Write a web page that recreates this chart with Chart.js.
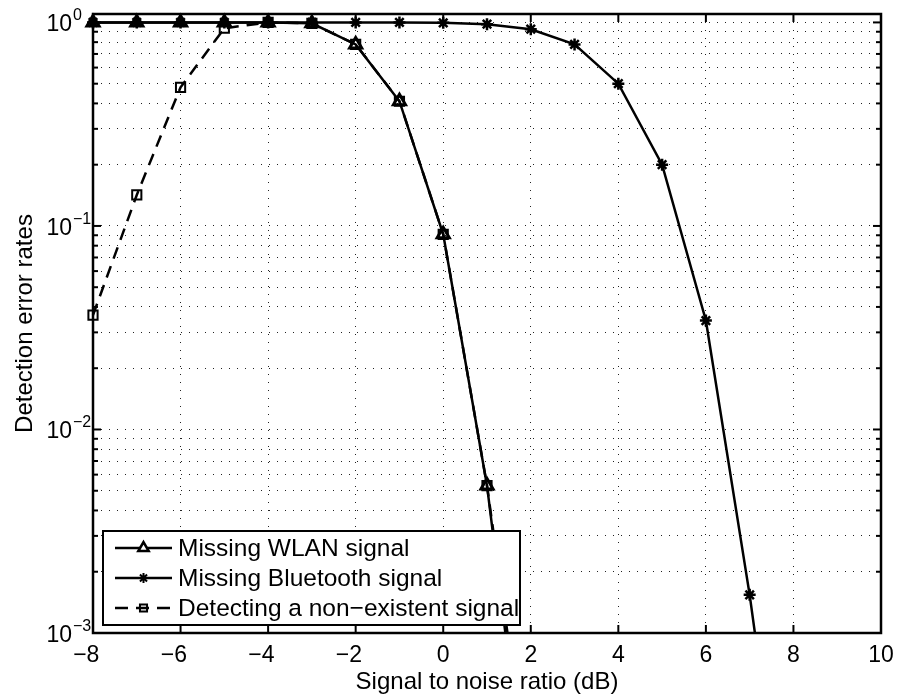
<!DOCTYPE html>
<html>
<head>
<meta charset="utf-8">
<script src="https://cdn.jsdelivr.net/npm/chart.js@4/dist/chart.umd.min.js"></script>
<style>
  html, body { margin: 0; padding: 0; background: #fff; }
  #wrap { width: 900px; height: 698px; }
</style>
</head>
<body>
<div id="wrap"><canvas id="c" width="900" height="698"></canvas></div>
<script>
// SNR sweep (dB) and measured detection error rates
const snrDb = [-8, -7, -6, -5, -4, -3, -2, -1, 0, 1, 2];
const snrDbBluetooth = [-8, -7, -6, -5, -4, -3, -2, -1, 0, 1, 2, 3, 4, 5, 6, 7, 8];
const missingWlan = [1, 1, 1, 1, 1, 0.99, 0.78, 0.41, 0.091, 0.0053, 0.0001];
const missingBluetooth = [1, 1, 1, 1, 1, 1, 1, 1, 0.995, 0.98, 0.926, 0.78, 0.50, 0.20, 0.0343, 0.00154, 0.000042];
const falseDetection = [0.0365, 0.142, 0.48, 0.936, 1, 0.99, 0.78, 0.41, 0.091, 0.0053, 0.00015];

// axis ticks
const xTickValues = [-8, -6, -4, -2, 0, 2, 4, 6, 8, 10];
const yDecadeExponents = [-3, -2, -1, 0];
const yMinorMultipliers = [1, 2, 3, 4, 5, 6, 7, 8, 9];

const seriesLabels = ['Missing WLAN signal', 'Missing Bluetooth signal', 'Detecting a non\u2212existent signal'];
const xTitle = 'Signal to noise ratio (dB)';
const yTitle = 'Detection error rates';

const FONT = '"Liberation Sans", Arial, Helvetica, sans-serif';

// every log grid position from 1e-3 up to 1
const yGridValues = [];
yDecadeExponents.forEach(e => {
  if (e === 0) { yGridValues.push(1); return; }
  yMinorMultipliers.forEach(m => yGridValues.push(m * Math.pow(10, e)));
});

const toPoints = (xs, ys) => xs.map((x, i) => ({ x: x, y: ys[i] }));
const clipBox = { left: 14, top: 14, right: 14, bottom: 0 };

const styles = [
  { pointStyle: 'triangle', radius: 7, pbw: 3, dash: [] },
  { pointStyle: 'star', radius: 6, pbw: 2.5, dash: [] },
  { pointStyle: 'rect', radius: 6.5, pbw: 2, dash: [12, 8] }
];

const datasets = [
  toPoints(snrDb, missingWlan),
  toPoints(snrDbBluetooth, missingBluetooth),
  toPoints(snrDb, falseDetection)
].map((data, i) => ({
  label: seriesLabels[i],
  data: data,
  borderColor: '#000',
  borderWidth: 2.5,
  borderDash: styles[i].dash,
  tension: 0,
  fill: false,
  pointStyle: styles[i].pointStyle,
  pointRadius: styles[i].radius,
  pointBorderWidth: styles[i].pbw,
  pointBorderColor: '#000',
  pointBackgroundColor: 'rgba(0,0,0,0)',
  clip: clipBox
}));

function seg(ctx, x1, y1, x2, y2) {
  ctx.beginPath(); ctx.moveTo(x1, y1); ctx.lineTo(x2, y2); ctx.stroke();
}

// frame, inside ticks, tick labels, titles and legend box
const framePlugin = {
  id: 'frame',
  afterDraw(chart) {
    const ctx = chart.ctx;
    const a = chart.chartArea;
    const xs = chart.scales.x, ys = chart.scales.y;
    ctx.save();

    // inside tick marks on all four sides
    ctx.strokeStyle = '#000';
    ctx.lineWidth = 2;
    xTickValues.forEach(v => {
      const px = xs.getPixelForValue(v);
      seg(ctx, px, a.bottom, px, a.bottom - 8);
      seg(ctx, px, a.top, px, a.top + 8);
    });
    yGridValues.forEach(v => {
      const py = ys.getPixelForValue(v);
      const major = Math.abs(Math.log10(v) - Math.round(Math.log10(v))) < 1e-9;
      const len = major ? 8 : 5;
      seg(ctx, a.left, py, a.left + len, py);
      seg(ctx, a.right, py, a.right - len, py);
    });

    // box
    ctx.lineWidth = 2.5;
    ctx.strokeRect(a.left, a.top, a.right - a.left, a.bottom - a.top);

    // x tick labels: digits centred on the tick, minus sign hanging left
    ctx.fillStyle = '#000';
    ctx.textBaseline = 'alphabetic';
    ctx.textAlign = 'left';
    ctx.font = '23px ' + FONT;
    xTickValues.forEach(v => {
      const px = xs.getPixelForValue(v);
      const digits = String(Math.abs(v));
      const dw = ctx.measureText(digits).width;
      let x0 = px - dw / 2;
      if (v < 0) {
        const mw = ctx.measureText('\u2212').width;
        ctx.fillText('\u2212', x0 - mw, a.bottom + 29);
      }
      ctx.fillText(digits, x0, a.bottom + 29);
    });

    // y tick labels 10^n
    yDecadeExponents.forEach(e => {
      const py = ys.getPixelForValue(Math.pow(10, e));
      ctx.font = '23px ' + FONT;
      ctx.textAlign = 'right';
      ctx.fillText('10', 72, py + 9);
      ctx.font = '16px ' + FONT;
      ctx.textAlign = 'left';
      const ex = e < 0 ? '\u2212' + Math.abs(e) : String(e);
      ctx.fillText(ex, 73, py - 2);
    });

    // axis titles
    ctx.font = '24px ' + FONT;
    ctx.textAlign = 'center';
    ctx.fillText(xTitle, (a.left + a.right) / 2, 689);
    ctx.save();
    ctx.translate(32, (a.top + a.bottom) / 2);
    ctx.rotate(-Math.PI / 2);
    ctx.fillText(yTitle, 0, 0);
    ctx.restore();

    // legend
    const lx = 103, ly = 531, lw = 417, lh = 94;
    ctx.fillStyle = '#fff';
    ctx.fillRect(lx, ly, lw, lh);
    ctx.strokeStyle = '#000';
    ctx.lineWidth = 2;
    ctx.strokeRect(lx, ly, lw, lh);
    const rowY = [548, 578, 608];
    chart.data.datasets.forEach((ds, i) => {
      const y = rowY[i];
      ctx.save();
      ctx.strokeStyle = '#000';
      ctx.lineWidth = 2.5;
      ctx.setLineDash(ds.borderDash.length ? [13, 8] : []);
      seg(ctx, 115, y, 172, y);
      ctx.restore();
      ctx.save();
      ctx.strokeStyle = '#000';
      ctx.lineWidth = i === 0 ? 2.5 : 2;
      ctx.fillStyle = i === 0 ? '#fff' : 'rgba(0,0,0,0)';
      Chart.helpers.drawPoint(ctx, {
        pointStyle: ds.pointStyle,
        radius: i === 0 ? 6 : 5,
        rotation: 0,
        borderWidth: 2
      }, 143.5, y);
      ctx.restore();
      ctx.fillStyle = '#000';
      ctx.font = '24.5px ' + FONT;
      ctx.textAlign = 'left';
      ctx.textBaseline = 'middle';
      ctx.fillText(ds.label, 178, y + 1);
    });
    ctx.restore();
  }
};

new Chart(document.getElementById('c'), {
  type: 'line',
  data: { datasets: datasets },
  options: {
    responsive: false,
    devicePixelRatio: 1,
    animation: false,
    events: [],
    layout: { padding: { top: 14, right: 19, left: 0, bottom: 0 } },
    plugins: { legend: { display: false }, tooltip: { enabled: false } },
    scales: {
      x: {
        type: 'linear',
        min: -8,
        max: 10,
        afterBuildTicks: s => { s.ticks = xTickValues.map(v => ({ value: v })); },
        afterFit: s => { s.height = 65; },
        ticks: { display: false },
        border: { display: false, dash: [1, 7] },
        grid: { color: '#222', lineWidth: 1, drawTicks: false }
      },
      y: {
        type: 'logarithmic',
        min: 0.001,
        max: 1.1,
        afterBuildTicks: s => { s.ticks = yGridValues.map(v => ({ value: v })); },
        afterFit: s => { s.width = 93; },
        ticks: { display: false },
        border: { display: false, dash: [1, 7] },
        grid: { color: '#222', lineWidth: 1, drawTicks: false }
      }
    }
  },
  plugins: [framePlugin]
});
</script>
</body>
</html>
